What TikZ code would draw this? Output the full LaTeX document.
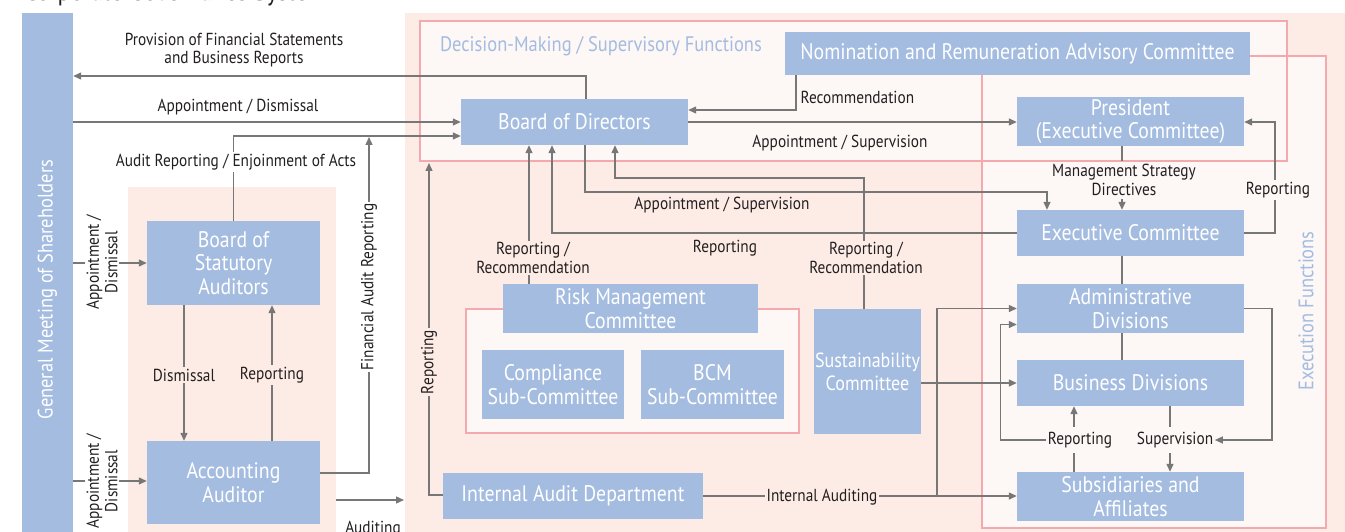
\documentclass[tikz,border=0pt]{standalone}
\usepackage{fontspec}
\usepackage{graphicx}
\setmainfont{PT Sans}[FakeStretch=0.88]
\usetikzlibrary{arrows.meta,calc}

\definecolor{boxblue}{HTML}{A3BCE0}
\definecolor{peach}{HTML}{FDECE5}
\definecolor{pinkline}{HTML}{F4A9AF}
\definecolor{pinkfill}{HTML}{FDF7F6}
\definecolor{linegray}{HTML}{777777}
\definecolor{ink}{HTML}{231F20}

\newcommand\bxfont{\fontsize{22.5}{23.5}\selectfont}
\newcommand\ttlfont{\fontsize{21}{23.5}\selectfont}
\newcommand\lbfont{\fontsize{17.4}{18.6}\selectfont}

\tikzset{
  box/.style={fill=boxblue, text=white, align=center, inner sep=0pt, font=\bxfont},
  lbl/.style={text=ink, font=\lbfont, align=center, inner sep=1.5pt},
  ln/.style={draw=linegray, line width=1.3pt},
  arr/.style={ln, -{Triangle[length=8pt,width=7pt]}},
  panel/.style={draw=pinkline, line width=1.5pt, fill=pinkfill},
}

\begin{document}
\begin{tikzpicture}[x=1pt,y=-1pt]
\useasboundingbox (0,0) rectangle (1345,532);
\fill[white] (0,0) rectangle (1345,532);

% heading (runs off the top of the page)
\node[anchor=base west, inner sep=0pt, text=ink, font=\fontsize{27}{30}\selectfont] (title) at (24,0.5) {Corporate Governance System};

% background areas
\fill[peach] (128,187) rectangle (336,570);
\fill[peach] (405,13) rectangle (1360,570);
\fill[pinkfill] (420,21) rectangle (1287,161);
\fill[pinkfill] (982,56) rectangle (1326,528);
\draw[pinkline, line width=1.5pt] (420,21) rectangle (1287,161);
\draw[pinkline, line width=1.5pt] (982,56) rectangle (1326,528);
\path[panel] (466,309) rectangle (799,433);

\node[font=\ttlfont, text=boxblue] (dmtitle) at (601,46) {Decision-Making / Supervisory Functions};
\node[font=\ttlfont, text=boxblue, rotate=90] (extitle) at (1306,311) {Execution Functions};

% organisation boxes
\node[box, font=\ttlfont, minimum width=51pt, minimum height=553pt] (gms) at (47.5,289.5) {\rotatebox{90}{General Meeting of Shareholders}};
\node[box, minimum width=173pt, minimum height=84pt] (bsa) at (233.5,263) {Board of\\Statutory\\Auditors};
\node[box, minimum width=173pt, minimum height=83pt] (acc) at (233.5,482.5) {Accounting\\Auditor};
\node[box, minimum width=227pt, minimum height=46pt] (bod) at (574.5,122) {Board of Directors};
\node[box, minimum width=465pt, minimum height=43pt] (nom) at (1017.5,53.5) {Nomination and Remuneration Advisory Committee};
\node[box, minimum width=227pt, minimum height=49pt] (pres) at (1130.5,121.5) {President\\(Executive Committee)};
\node[box, minimum width=227pt, minimum height=46pt] (exec) at (1130.5,233) {Executive Committee};
\node[box, minimum width=227pt, minimum height=49pt] (adm) at (1130.5,308.5) {Administrative\\Divisions};
\node[box, minimum width=227pt, minimum height=46pt] (bus) at (1130.5,383) {Business Divisions};
\node[box, minimum width=227pt, minimum height=49pt] (sub) at (1130.5,496.5) {Subsidiaries and\\Affiliates};
\node[box, minimum width=255pt, minimum height=49pt] (risk) at (630.5,308.5) {Risk Management\\Committee};
\node[box, minimum width=142pt, minimum height=69pt] (comp) at (553,384.5) {Compliance\\Sub-Committee};
\node[box, minimum width=143pt, minimum height=69pt] (bcm) at (712.5,384.5) {BCM\\Sub-Committee};
\node[box, font=\fontsize{20.5}{23}\selectfont, minimum width=107pt, minimum height=125pt] (sust) at (867.5,371.5) {Sustainability\\Committee};
\node[box, minimum width=260pt, minimum height=46pt] (iad) at (573,496) {Internal Audit Department};

% labels that split a connector into two pieces
\node[lbl, inner ysep=3pt] (msd) at (1124,180) {Management Strategy\\Directives};
\node[lbl, inner ysep=5pt] (srep) at (1080,440) {Reporting};
\node[lbl, inner ysep=5pt] (sup) at (1175,440) {Supervision};

% free ends and bends
\coordinate (fatip) at (369,137);
\coordinate (auda) at (336,500);
\coordinate (audb) at (404,500);
\coordinate (iartip) at (429,163);
\coordinate (j1) at (937,496);
\coordinate (supc) at (1272,440);

% connectors: shareholders, auditors
\draw[arr] ($(bod.north)+(11.5,0)$) |- (gms.east |- 0,76);
\draw[arr] (gms.east |- 0,122) -- (bod.west |- 0,122);
\draw[arr] (bsa.north) |- (bod.west |- 0,136);
\draw[arr] (acc.east |- 0,473) -| (fatip);
\draw[arr] (auda) -- (audb);
\draw[arr] (gms.east |- bsa.west) -- (bsa.west);
\draw[arr] (gms.east |- 0,481) -- (acc.west |- 0,481);
\draw[arr] (bsa.south -| 184,0) -- (acc.north -| 184,0);
\draw[arr] (acc.north -| 272,0) -- (bsa.south -| 272,0);

% connectors: board of directors
\draw[arr] (iad.west |- 0,495) -| (iartip);
\draw[arr] (nom.south -| 796,0) |- (bod.east |- 0,110);
\draw[arr] (bod.east |- 0,122) -- (pres.west |- 0,122);
\draw[arr] (bod.south -| 585,0) |- (1047,192) -- (exec.north -| 1047,0);
\draw[arr] (sust.north -| 864,0) |- (615,178) -- (bod.south -| 615,0);
\draw[arr] (exec.west) -| (bod.south -| 552,0);
\draw[arr] (risk.north -| 529,0) -- (bod.south -| 529,0);

% connectors: execution side
\draw[ln] (pres.south -| 1122,0) -- (msd.north -| 1122,0);
\draw[arr] (msd.south -| 1122,0) -- (exec.north -| 1122,0);
\draw[arr] (exec.east) -| (1275,122) -- (pres.east |- 0,122);
\draw[ln] (exec.south -| 1122,0) -- (adm.north -| 1122,0);
\draw[ln] (adm.south -| 1122,0) -- (bus.north -| 1122,0);
\draw[arr] (iad.east) -- (sub.west |- iad.east);
\draw[arr] (j1) |- (adm.west);
\draw[arr] (sust.east |- bus.west) -- (bus.west);
\draw[ln] (sub.north -| 1074,0) -- (srep.south -| 1074,0);
\draw[arr] (srep.north -| 1074,0) -- (bus.south -| 1074,0);
\draw[arr] (srep.west) -| ($(adm.west)+(-16,16)$) -- ($(adm.west)+(0,16)$);
\draw[ln] (bus.south -| 1170,0) -- (sup.north -| 1170,0);
\draw[arr] (sup.south -| 1170,0) -- (sub.north -| 1170,0);
\draw[arr] (adm.east) -| (supc) -- (sup.east);

% connector labels
\node[lbl] (prov) at (234,50) {Provision of Financial Statements\\and Business Reports};
\node[lbl] (apd) at (238,107) {Appointment / Dismissal};
\node[lbl, fill=white] (arep) at (236,162) {Audit Reporting / Enjoinment of Acts};
\node[lbl, fill=white, rotate=90] (farep) at (369,287) {Financial Audit Reporting};
\node[lbl] (audl) at (373,529) {Auditing};
\node[lbl, fill=white, rotate=90] (ad1) at (102,262) {Appointment /\\Dismissal};
\node[lbl, fill=white, rotate=90] (ad2) at (102,481) {Appointment /\\Dismissal};
\node[lbl, fill=peach] (dis) at (184,375) {Dismissal};
\node[lbl, fill=peach] (rep1) at (272,375) {Reporting};
\node[lbl, fill=peach, rotate=90] (iarep) at (429,362) {Reporting};
\node[lbl, anchor=west] (recm) at (799,97) {Recommendation};
\node[lbl] (aps1) at (840,143) {Appointment / Supervision};
\node[lbl] (aps2) at (722,205) {Appointment / Supervision};
\node[lbl, fill=peach] (rr1) at (533,258) {Reporting /\\Recommendation};
\node[lbl] (rep2) at (725,248) {Reporting};
\node[lbl, fill=peach] (rr2) at (866,258) {Reporting /\\Recommendation};
\node[lbl, fill=pinkfill] (erep) at (1278,190) {Reporting};
\node[lbl, fill=peach] (iaud) at (822,497) {Internal Auditing};
\end{tikzpicture}
\end{document}
